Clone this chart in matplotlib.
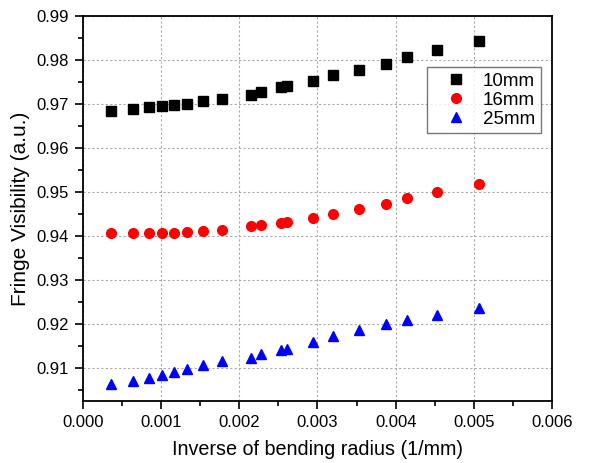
import matplotlib
matplotlib.use("Agg")
import matplotlib.pyplot as plt
from matplotlib.ticker import MultipleLocator, FormatStrFormatter

plt.rcParams['font.family'] = ['Liberation Sans', 'DejaVu Sans']

x = [0.000361, 0.000645, 0.000841, 0.001008, 0.001167, 0.001326, 0.001535,
     0.001777, 0.002145, 0.002271, 0.002530, 0.002605, 0.002948, 0.003203,
     0.003537, 0.003871, 0.004143, 0.004528, 0.005071]
v10 = [0.96833, 0.96894, 0.96924, 0.96955, 0.96970, 0.97008, 0.97076,
       0.97121, 0.97212, 0.97265, 0.97379, 0.97402, 0.97530, 0.97652,
       0.97780, 0.97917, 0.98061, 0.98235, 0.98439]
v16 = [0.94061, 0.94069, 0.94069, 0.94069, 0.94076, 0.94092, 0.94122,
       0.94145, 0.94221, 0.94260, 0.94305, 0.94321, 0.94420, 0.94511,
       0.94611, 0.94725, 0.94855, 0.94992, 0.95183]
v25 = [0.90647, 0.90699, 0.90774, 0.90842, 0.90910, 0.90977, 0.91060,
       0.91150, 0.91226, 0.91316, 0.91406, 0.91436, 0.91602, 0.91729,
       0.91865, 0.91992, 0.92090, 0.92195, 0.92361]
labels = ['10mm', '16mm', '25mm']

fig = plt.figure(figsize=(5.94, 4.63), dpi=100)
ax = fig.add_axes([0.1397, 0.1339, 0.7896, 0.8315])

ax.plot(x, v10, 's', color='black', markersize=6.5, linestyle='none', label=labels[0])
ax.plot(x, v16, 'o', color='red', markersize=7, linestyle='none', label=labels[1])
ax.plot(x, v25, '^', color='blue', markersize=7.5, linestyle='none', label=labels[2])

ax.set_xlim(0, 0.006)
ax.set_ylim(0.9025, 0.99)
ax.xaxis.set_major_locator(MultipleLocator(0.001))
ax.xaxis.set_minor_locator(MultipleLocator(0.0005))
ax.yaxis.set_major_locator(MultipleLocator(0.01))
ax.yaxis.set_minor_locator(MultipleLocator(0.005))
ax.xaxis.set_major_formatter(FormatStrFormatter('%.3f'))
ax.yaxis.set_major_formatter(FormatStrFormatter('%.2f'))

ax.grid(True, which='major', linestyle=(0, (2, 2)), color='#aaaaaa', linewidth=0.8)
ax.tick_params(axis='both', which='major', direction='out', length=6, width=1.2,
               labelsize=12, pad=4, top=False, right=False)
ax.tick_params(axis='both', which='minor', direction='out', length=3.5, width=1.2,
               top=False, right=False)
for s in ax.spines.values():
    s.set_linewidth(1.3)

ax.set_xlabel('Inverse of bending radius (1/mm)', fontsize=14.2, labelpad=7)
ax.set_ylabel('Fringe Visibility (a.u.)', fontsize=15, labelpad=5)

leg = ax.legend(loc='upper right', bbox_to_anchor=(0.9765, 0.8675), fontsize=13.5,
                frameon=True, fancybox=False, edgecolor='#555555',
                borderaxespad=0, handletextpad=0.2, borderpad=0.3,
                labelspacing=0.1, handlelength=2.5)
leg.get_frame().set_linewidth(1.0)

fig.savefig('out.png', dpi=100)
